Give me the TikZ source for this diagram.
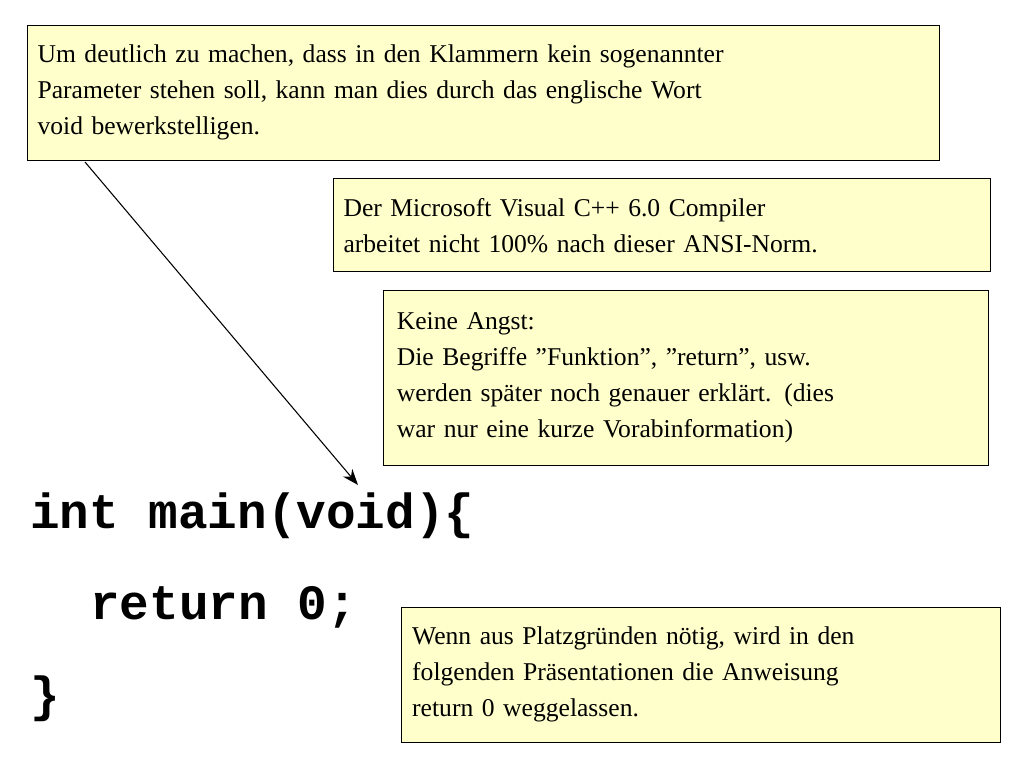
\documentclass[tikz,border=0pt]{standalone}
\usepackage{fontspec}
\usetikzlibrary{arrows.meta}
\setmainfont{Liberation Serif}
\newfontfamily\codefont{Liberation Mono}
\definecolor{boxfill}{HTML}{FFFFCC}
\newcommand\dq{\symbol{34}}
\begin{document}
\begin{tikzpicture}[x=0.75pt,y=-0.75pt,
  note/.style={draw=black,fill=boxfill,line width=0.8pt,anchor=north west,align=left,inner xsep=7.5pt,inner ysep=4pt,font=\fontsize{19.2}{27}\selectfont},
  code/.style={anchor=base west,inner sep=0pt,font=\codefont\bfseries\fontsize{37}{40}\selectfont}]
\useasboundingbox (0,0) rectangle (1024,768);
\node[note,text width=669pt,minimum height=101pt] (n1) at (27,25) {Um deutlich zu machen, dass in den Klammern kein sogenannter\\Parameter stehen soll, kann man dies durch das englische Wort\\void bewerkstelligen.};
\node[note,text width=478pt,minimum height=70pt] (n2) at (333,178) {Der Microsoft Visual C++ 6.0 Compiler\\arbeitet nicht 100\% nach dieser ANSI-Norm.};
\node[note,text width=434pt,minimum height=131pt,inner xsep=10pt] (n3) at (383,290) {Keine Angst:\\Die Begriffe \dq Funktion\dq, \dq return\dq, usw.\\werden später noch genauer erklärt. (dies\\war nur eine kurze Vorabinformation)};
\node[note,text width=433pt,minimum height=101pt,inner xsep=8pt] (n4) at (401,607) {Wenn aus Platzgründen nötig, wird in den\\folgenden Präsentationen die Anweisung\\return 0 weggelassen.};
\node[code] (c1) at (30,528) {int main(void)\{};
\node[code] (c2) at (90,619) {return 0;};
\node[code] (c3) at (30,711) {\}};
\coordinate (s) at (85,162);
\coordinate (e) at (358,485);
\draw[-{Stealth[length=12pt,width=9pt]},line width=0.8pt] (s) -- (e);
\end{tikzpicture}
\end{document}
